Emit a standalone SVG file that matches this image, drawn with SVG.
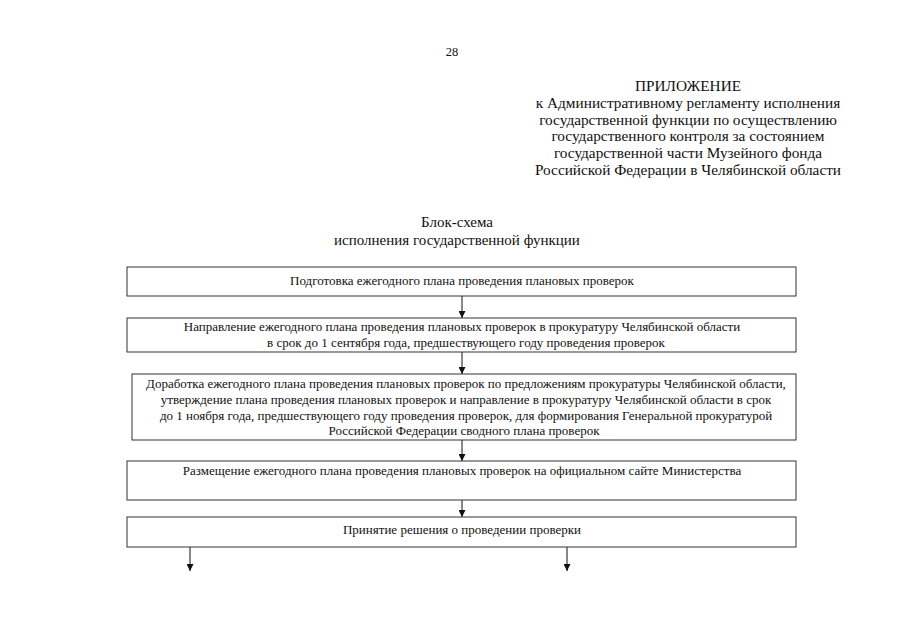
<svg xmlns="http://www.w3.org/2000/svg" width="905" height="640" viewBox="0 0 905 640">
<style>
text{font-family:"Liberation Serif","Times New Roman",serif;fill:#111}
.h{font-size:15.3px;text-anchor:middle}
.t{font-size:15px;text-anchor:middle}
.b{font-size:13px;text-anchor:middle}
.box{fill:#fff;stroke:#333;stroke-width:1}
.c{stroke:#111;stroke-width:1;fill:none}
</style>
<defs>
<marker id="ar" viewBox="0 0 8 8" refX="8" refY="4" markerWidth="7" markerHeight="7" markerUnits="userSpaceOnUse" orient="auto">
<path d="M0,0 L8,4 L0,8 z" fill="#111"/>
</marker>
</defs>
<rect width="905" height="640" fill="#fff"/>
<text x="452" y="56" font-size="12.5" text-anchor="middle">28</text>
<g id="header">
<text class="h" x="688" y="91">ПРИЛОЖЕНИЕ</text>
<text class="h" x="688" y="108">к Административному регламенту исполнения</text>
<text class="h" x="688" y="125">государственной функции по осуществлению</text>
<text class="h" x="688" y="141">государственного контроля за состоянием</text>
<text class="h" x="688" y="158">государственной части Музейного фонда</text>
<text class="h" x="688" y="175">Российской Федерации в Челябинской области</text>
</g>
<g id="title">
<text class="t" x="457" y="227">Блок-схема</text>
<text class="t" x="457" y="245">исполнения государственной функции</text>
</g>
<g id="connectors">
<line class="c" x1="462" y1="296" x2="462" y2="318" marker-end="url(#ar)"/>
<line class="c" x1="462" y1="352" x2="462" y2="374" marker-end="url(#ar)"/>
<line class="c" x1="462" y1="440" x2="462" y2="461" marker-end="url(#ar)"/>
<line class="c" x1="462" y1="500" x2="462" y2="517" marker-end="url(#ar)"/>
<line class="c" x1="190" y1="547" x2="190" y2="571" marker-end="url(#ar)"/>
<line class="c" x1="567" y1="547" x2="567" y2="571" marker-end="url(#ar)"/>
</g>
<g id="n1">
<rect class="box" x="127" y="267" width="669" height="29"/>
<text class="b" x="462" y="285">Подготовка ежегодного плана проведения плановых проверок</text>
</g>
<g id="n2">
<rect class="box" x="127" y="318" width="669" height="34"/>
<text class="b" x="462" y="331">Направление ежегодного плана проведения плановых проверок в прокуратуру Челябинской области</text>
<text class="b" x="466" y="347">в срок до 1 сентября года, предшествующего году проведения проверок</text>
</g>
<g id="n3">
<rect class="box" x="132" y="374" width="664" height="66"/>
<text class="b" x="466" y="388">Доработка ежегодного плана проведения плановых проверок по предложениям прокуратуры Челябинской области,</text>
<text class="b" x="466" y="404">утверждение плана проведения плановых проверок и направление в прокуратуру Челябинской области в срок</text>
<text class="b" x="466" y="420">до 1 ноября года, предшествующего году проведения проверок, для формирования Генеральной прокуратурой</text>
<text class="b" x="464" y="435">Российской Федерации сводного плана проверок</text>
</g>
<g id="n4">
<rect class="box" x="127" y="461" width="669" height="39"/>
<text class="b" x="462" y="475">Размещение ежегодного плана проведения плановых проверок на официальном сайте Министерства</text>
</g>
<g id="n5">
<rect class="box" x="127" y="517" width="669" height="30"/>
<text class="b" x="462" y="534">Принятие решения о проведении проверки</text>
</g>
</svg>
